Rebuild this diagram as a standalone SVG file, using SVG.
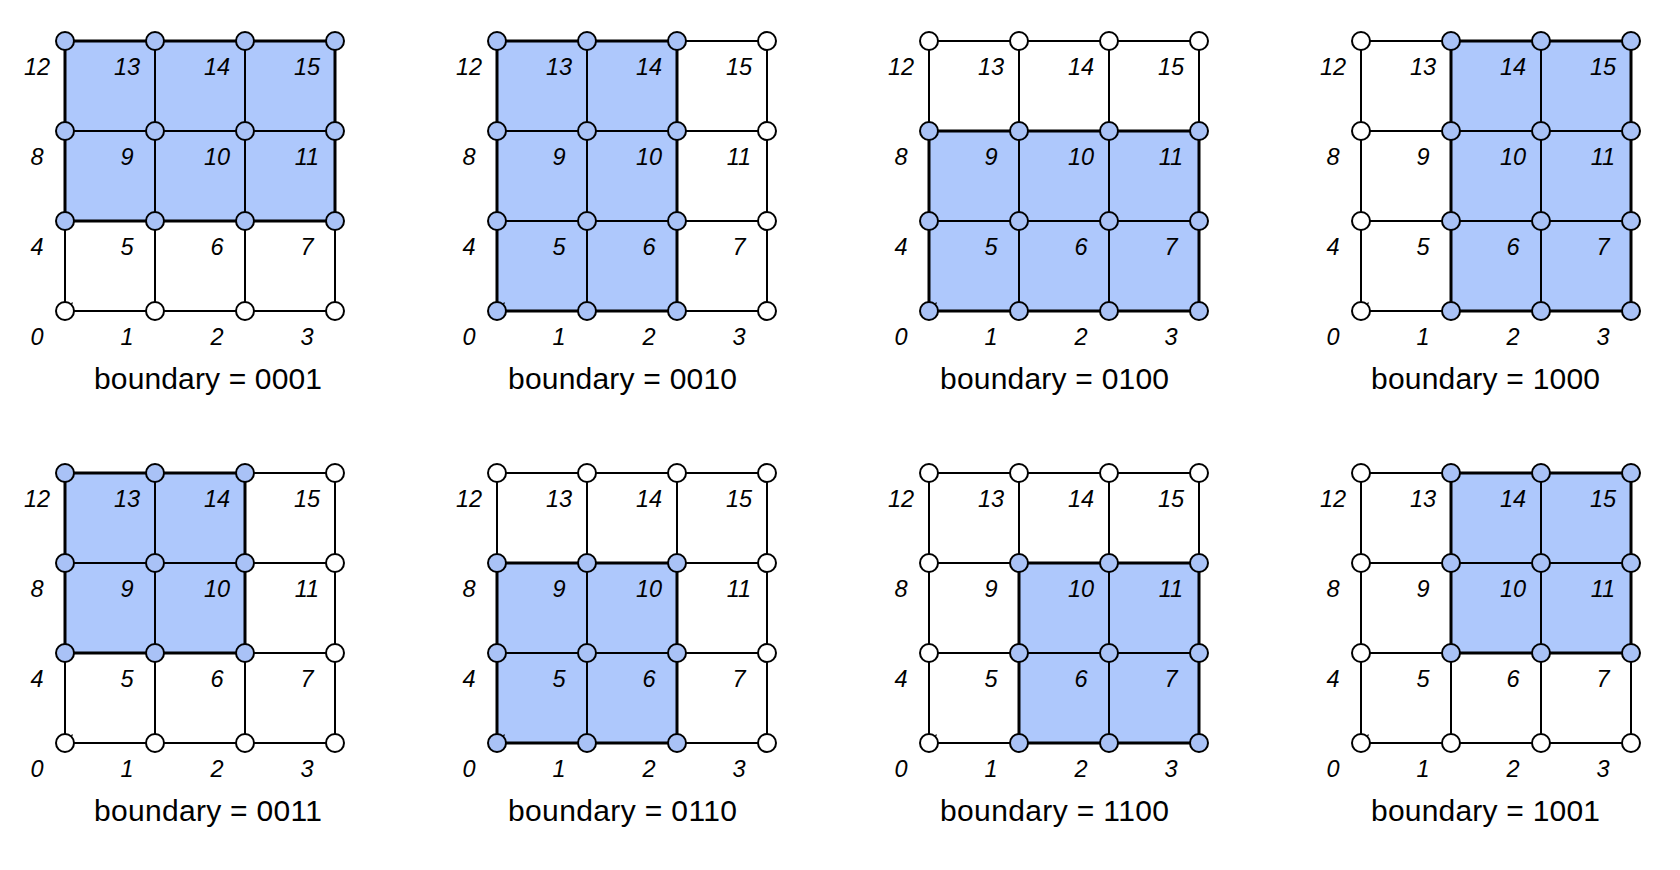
<svg xmlns="http://www.w3.org/2000/svg" xmlns:xlink="http://www.w3.org/1999/xlink" width="1680" height="870" viewBox="0 0 1680 870">
<style>
.bg{fill:#ffffff}
.reg{fill:#aec8fc;stroke:none}
.regb{fill:none;stroke:#000;stroke-width:3}
.gl{stroke:#000;stroke-width:2;fill:none}
.w{fill:#ffffff;stroke:#000;stroke-width:2}
.b{fill:#a9c2f6;stroke:#000;stroke-width:2}
.lab{font-family:"Liberation Sans",Arial,sans-serif;font-style:italic;font-size:23.5px;fill:#000;text-anchor:middle}
.ttl{font-family:"Liberation Sans",Arial,sans-serif;font-size:30px;fill:#000}
.tick{stroke:#000;stroke-width:1.3;fill:none}
</style>
<defs>
<g id="grid">
<path class="gl" d="M0 0H270M0 90H270M0 180H270M0 270H270M0 0V270M90 0V270M180 0V270M270 0V270"/>
</g>
<g id="labels">
<text class="lab" x="-28" y="304">0</text>
<text class="lab" x="62" y="304">1</text>
<text class="lab" x="152" y="304">2</text>
<text class="lab" x="242" y="304">3</text>
<text class="lab" x="-28" y="214">4</text>
<text class="lab" x="62" y="214">5</text>
<text class="lab" x="152" y="214">6</text>
<text class="lab" x="242" y="214">7</text>
<text class="lab" x="-28" y="124">8</text>
<text class="lab" x="62" y="124">9</text>
<text class="lab" x="152" y="124">10</text>
<text class="lab" x="242" y="124">11</text>
<text class="lab" x="-28" y="34">12</text>
<text class="lab" x="62" y="34">13</text>
<text class="lab" x="152" y="34">14</text>
<text class="lab" x="242" y="34">15</text>
</g>
</defs>
<rect class="bg" x="0" y="0" width="1680" height="870"/>

<g id="panel-0001" transform="translate(65,41)">
<rect class="reg" x="0" y="0" width="270" height="180"/>
<g id="connectors-0001"><use xlink:href="#grid" href="#grid"/><rect class="regb" x="0" y="0" width="270" height="180"/><path class="tick" d="M5 265.5L7.5 261.5"/></g>
<g id="nodes-0001">
<circle class="w" cx="0" cy="270" r="9"/><circle class="w" cx="90" cy="270" r="9"/><circle class="w" cx="180" cy="270" r="9"/><circle class="w" cx="270" cy="270" r="9"/>
<circle class="b" cx="0" cy="180" r="9"/><circle class="b" cx="90" cy="180" r="9"/><circle class="b" cx="180" cy="180" r="9"/><circle class="b" cx="270" cy="180" r="9"/>
<circle class="b" cx="0" cy="90" r="9"/><circle class="b" cx="90" cy="90" r="9"/><circle class="b" cx="180" cy="90" r="9"/><circle class="b" cx="270" cy="90" r="9"/>
<circle class="b" cx="0" cy="0" r="9"/><circle class="b" cx="90" cy="0" r="9"/><circle class="b" cx="180" cy="0" r="9"/><circle class="b" cx="270" cy="0" r="9"/>
</g>
<use xlink:href="#labels" href="#labels"/>
<text class="ttl" x="29" y="348" textLength="228" lengthAdjust="spacing">boundary = 0001</text>
</g>

<g id="panel-0010" transform="translate(497,41)">
<rect class="reg" x="0" y="0" width="180" height="270"/>
<g id="connectors-0010"><use xlink:href="#grid" href="#grid"/><rect class="regb" x="0" y="0" width="180" height="270"/><path class="tick" d="M5 265.5L7.5 261.5"/></g>
<g id="nodes-0010">
<circle class="b" cx="0" cy="270" r="9"/><circle class="b" cx="90" cy="270" r="9"/><circle class="b" cx="180" cy="270" r="9"/><circle class="w" cx="270" cy="270" r="9"/>
<circle class="b" cx="0" cy="180" r="9"/><circle class="b" cx="90" cy="180" r="9"/><circle class="b" cx="180" cy="180" r="9"/><circle class="w" cx="270" cy="180" r="9"/>
<circle class="b" cx="0" cy="90" r="9"/><circle class="b" cx="90" cy="90" r="9"/><circle class="b" cx="180" cy="90" r="9"/><circle class="w" cx="270" cy="90" r="9"/>
<circle class="b" cx="0" cy="0" r="9"/><circle class="b" cx="90" cy="0" r="9"/><circle class="b" cx="180" cy="0" r="9"/><circle class="w" cx="270" cy="0" r="9"/>
</g>
<use xlink:href="#labels" href="#labels"/>
<text class="ttl" x="11" y="348" textLength="229" lengthAdjust="spacing">boundary = 0010</text>
</g>

<g id="panel-0100" transform="translate(929,41)">
<rect class="reg" x="0" y="90" width="270" height="180"/>
<g id="connectors-0100"><use xlink:href="#grid" href="#grid"/><rect class="regb" x="0" y="90" width="270" height="180"/><path class="tick" d="M5 265.5L7.5 261.5"/></g>
<g id="nodes-0100">
<circle class="b" cx="0" cy="270" r="9"/><circle class="b" cx="90" cy="270" r="9"/><circle class="b" cx="180" cy="270" r="9"/><circle class="b" cx="270" cy="270" r="9"/>
<circle class="b" cx="0" cy="180" r="9"/><circle class="b" cx="90" cy="180" r="9"/><circle class="b" cx="180" cy="180" r="9"/><circle class="b" cx="270" cy="180" r="9"/>
<circle class="b" cx="0" cy="90" r="9"/><circle class="b" cx="90" cy="90" r="9"/><circle class="b" cx="180" cy="90" r="9"/><circle class="b" cx="270" cy="90" r="9"/>
<circle class="w" cx="0" cy="0" r="9"/><circle class="w" cx="90" cy="0" r="9"/><circle class="w" cx="180" cy="0" r="9"/><circle class="w" cx="270" cy="0" r="9"/>
</g>
<use xlink:href="#labels" href="#labels"/>
<text class="ttl" x="11" y="348" textLength="229" lengthAdjust="spacing">boundary = 0100</text>
</g>

<g id="panel-1000" transform="translate(1361,41)">
<rect class="reg" x="90" y="0" width="180" height="270"/>
<g id="connectors-1000"><use xlink:href="#grid" href="#grid"/><rect class="regb" x="90" y="0" width="180" height="270"/><path class="tick" d="M5 265.5L7.5 261.5"/></g>
<g id="nodes-1000">
<circle class="w" cx="0" cy="270" r="9"/><circle class="b" cx="90" cy="270" r="9"/><circle class="b" cx="180" cy="270" r="9"/><circle class="b" cx="270" cy="270" r="9"/>
<circle class="w" cx="0" cy="180" r="9"/><circle class="b" cx="90" cy="180" r="9"/><circle class="b" cx="180" cy="180" r="9"/><circle class="b" cx="270" cy="180" r="9"/>
<circle class="w" cx="0" cy="90" r="9"/><circle class="b" cx="90" cy="90" r="9"/><circle class="b" cx="180" cy="90" r="9"/><circle class="b" cx="270" cy="90" r="9"/>
<circle class="w" cx="0" cy="0" r="9"/><circle class="b" cx="90" cy="0" r="9"/><circle class="b" cx="180" cy="0" r="9"/><circle class="b" cx="270" cy="0" r="9"/>
</g>
<use xlink:href="#labels" href="#labels"/>
<text class="ttl" x="10" y="348" textLength="229" lengthAdjust="spacing">boundary = 1000</text>
</g>

<g id="panel-0011" transform="translate(65,473)">
<rect class="reg" x="0" y="0" width="180" height="180"/>
<g id="connectors-0011"><use xlink:href="#grid" href="#grid"/><rect class="regb" x="0" y="0" width="180" height="180"/><path class="tick" d="M5 265.5L7.5 261.5"/></g>
<g id="nodes-0011">
<circle class="w" cx="0" cy="270" r="9"/><circle class="w" cx="90" cy="270" r="9"/><circle class="w" cx="180" cy="270" r="9"/><circle class="w" cx="270" cy="270" r="9"/>
<circle class="b" cx="0" cy="180" r="9"/><circle class="b" cx="90" cy="180" r="9"/><circle class="b" cx="180" cy="180" r="9"/><circle class="w" cx="270" cy="180" r="9"/>
<circle class="b" cx="0" cy="90" r="9"/><circle class="b" cx="90" cy="90" r="9"/><circle class="b" cx="180" cy="90" r="9"/><circle class="w" cx="270" cy="90" r="9"/>
<circle class="b" cx="0" cy="0" r="9"/><circle class="b" cx="90" cy="0" r="9"/><circle class="b" cx="180" cy="0" r="9"/><circle class="w" cx="270" cy="0" r="9"/>
</g>
<use xlink:href="#labels" href="#labels"/>
<text class="ttl" x="29" y="348" textLength="228" lengthAdjust="spacing">boundary = 0011</text>
</g>

<g id="panel-0110" transform="translate(497,473)">
<rect class="reg" x="0" y="90" width="180" height="180"/>
<g id="connectors-0110"><use xlink:href="#grid" href="#grid"/><rect class="regb" x="0" y="90" width="180" height="180"/><path class="tick" d="M5 265.5L7.5 261.5"/></g>
<g id="nodes-0110">
<circle class="b" cx="0" cy="270" r="9"/><circle class="b" cx="90" cy="270" r="9"/><circle class="b" cx="180" cy="270" r="9"/><circle class="w" cx="270" cy="270" r="9"/>
<circle class="b" cx="0" cy="180" r="9"/><circle class="b" cx="90" cy="180" r="9"/><circle class="b" cx="180" cy="180" r="9"/><circle class="w" cx="270" cy="180" r="9"/>
<circle class="b" cx="0" cy="90" r="9"/><circle class="b" cx="90" cy="90" r="9"/><circle class="b" cx="180" cy="90" r="9"/><circle class="w" cx="270" cy="90" r="9"/>
<circle class="w" cx="0" cy="0" r="9"/><circle class="w" cx="90" cy="0" r="9"/><circle class="w" cx="180" cy="0" r="9"/><circle class="w" cx="270" cy="0" r="9"/>
</g>
<use xlink:href="#labels" href="#labels"/>
<text class="ttl" x="11" y="348" textLength="229" lengthAdjust="spacing">boundary = 0110</text>
</g>

<g id="panel-1100" transform="translate(929,473)">
<rect class="reg" x="90" y="90" width="180" height="180"/>
<g id="connectors-1100"><use xlink:href="#grid" href="#grid"/><rect class="regb" x="90" y="90" width="180" height="180"/><path class="tick" d="M5 265.5L7.5 261.5"/></g>
<g id="nodes-1100">
<circle class="w" cx="0" cy="270" r="9"/><circle class="b" cx="90" cy="270" r="9"/><circle class="b" cx="180" cy="270" r="9"/><circle class="b" cx="270" cy="270" r="9"/>
<circle class="w" cx="0" cy="180" r="9"/><circle class="b" cx="90" cy="180" r="9"/><circle class="b" cx="180" cy="180" r="9"/><circle class="b" cx="270" cy="180" r="9"/>
<circle class="w" cx="0" cy="90" r="9"/><circle class="b" cx="90" cy="90" r="9"/><circle class="b" cx="180" cy="90" r="9"/><circle class="b" cx="270" cy="90" r="9"/>
<circle class="w" cx="0" cy="0" r="9"/><circle class="w" cx="90" cy="0" r="9"/><circle class="w" cx="180" cy="0" r="9"/><circle class="w" cx="270" cy="0" r="9"/>
</g>
<use xlink:href="#labels" href="#labels"/>
<text class="ttl" x="11" y="348" textLength="229" lengthAdjust="spacing">boundary = 1100</text>
</g>

<g id="panel-1001" transform="translate(1361,473)">
<rect class="reg" x="90" y="0" width="180" height="180"/>
<g id="connectors-1001"><use xlink:href="#grid" href="#grid"/><rect class="regb" x="90" y="0" width="180" height="180"/><path class="tick" d="M5 265.5L7.5 261.5"/></g>
<g id="nodes-1001">
<circle class="w" cx="0" cy="270" r="9"/><circle class="w" cx="90" cy="270" r="9"/><circle class="w" cx="180" cy="270" r="9"/><circle class="w" cx="270" cy="270" r="9"/>
<circle class="w" cx="0" cy="180" r="9"/><circle class="b" cx="90" cy="180" r="9"/><circle class="b" cx="180" cy="180" r="9"/><circle class="b" cx="270" cy="180" r="9"/>
<circle class="w" cx="0" cy="90" r="9"/><circle class="b" cx="90" cy="90" r="9"/><circle class="b" cx="180" cy="90" r="9"/><circle class="b" cx="270" cy="90" r="9"/>
<circle class="w" cx="0" cy="0" r="9"/><circle class="b" cx="90" cy="0" r="9"/><circle class="b" cx="180" cy="0" r="9"/><circle class="b" cx="270" cy="0" r="9"/>
</g>
<use xlink:href="#labels" href="#labels"/>
<text class="ttl" x="10" y="348" textLength="229" lengthAdjust="spacing">boundary = 1001</text>
</g>
</svg>
